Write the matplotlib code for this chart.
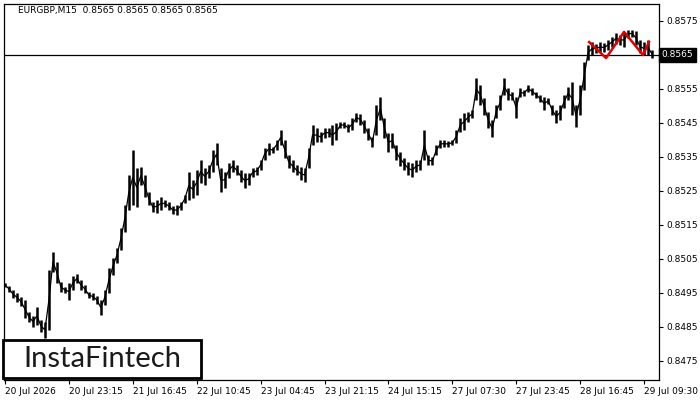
import numpy as np
import matplotlib
matplotlib.use("Agg")
import matplotlib.pyplot as plt
from matplotlib.patches import Rectangle

# EURGBP M15, high/low per ~4 bars
highs = [
    0.84979, 0.84971, 0.84959, 0.84950, 0.84938, 0.84929, 0.84894, 0.84882, 0.84909, 0.84871,
    0.84865, 0.85018, 0.85071, 0.85041, 0.84982, 0.84968, 0.84979, 0.85000, 0.85006, 0.84988,
    0.84974, 0.84953, 0.84950, 0.84941, 0.84929, 0.84959, 0.85024, 0.85053, 0.85082, 0.85141,
    0.85209, 0.85297, 0.85371, 0.85318, 0.85321, 0.85297, 0.85247, 0.85218, 0.85224, 0.85232,
    0.85224, 0.85218, 0.85206, 0.85209, 0.85218, 0.85238, 0.85306, 0.85282, 0.85312, 0.85341,
    0.85318, 0.85326, 0.85371, 0.85391, 0.85318, 0.85306, 0.85332, 0.85341, 0.85326, 0.85312,
    0.85303, 0.85303, 0.85318, 0.85321, 0.85341, 0.85376, 0.85391, 0.85379, 0.85400, 0.85429,
    0.85400, 0.85356, 0.85341, 0.85326, 0.85321, 0.85318, 0.85376, 0.85444, 0.85435, 0.85424,
    0.85435, 0.85435, 0.85444, 0.85450, 0.85453, 0.85453, 0.85447, 0.85465, 0.85479, 0.85476,
    0.85459, 0.85435, 0.85409, 0.85503, 0.85526, 0.85465, 0.85421, 0.85421, 0.85385, 0.85365,
    0.85347, 0.85335, 0.85332, 0.85341, 0.85341, 0.85429, 0.85356, 0.85350, 0.85385, 0.85400,
    0.85400, 0.85397, 0.85400, 0.85429, 0.85465, 0.85479, 0.85482, 0.85488, 0.85582, 0.85562,
    0.85524, 0.85482, 0.85459, 0.85503, 0.85532, 0.85582, 0.85553, 0.85541, 0.85526, 0.85553,
    0.85547, 0.85562, 0.85553, 0.85541, 0.85532, 0.85526, 0.85524, 0.85503, 0.85488, 0.85503,
    0.85532, 0.85556, 0.85571, 0.85503, 0.85562, 0.85629, 0.85679, 0.85688, 0.85682, 0.85688,
    0.85685, 0.85694, 0.85703, 0.85715, 0.85709, 0.85715, 0.85724, 0.85724, 0.85721, 0.85694,
    0.85688, 0.85694, 0.85665,
]
lows = [
    0.84968, 0.84953, 0.84935, 0.84924, 0.84912, 0.84876, 0.84865, 0.84850, 0.84856, 0.84835,
    0.84818, 0.84841, 0.85012, 0.84979, 0.84953, 0.84950, 0.84929, 0.84959, 0.84979, 0.84959,
    0.84950, 0.84935, 0.84929, 0.84918, 0.84885, 0.84915, 0.84950, 0.85003, 0.85038, 0.85076,
    0.85129, 0.85194, 0.85209, 0.85203, 0.85268, 0.85232, 0.85209, 0.85188, 0.85185, 0.85194,
    0.85203, 0.85194, 0.85182, 0.85179, 0.85194, 0.85215, 0.85224, 0.85229, 0.85238, 0.85274,
    0.85268, 0.85288, 0.85306, 0.85326, 0.85247, 0.85259, 0.85288, 0.85306, 0.85297, 0.85276,
    0.85259, 0.85268, 0.85291, 0.85297, 0.85312, 0.85341, 0.85356, 0.85362, 0.85371, 0.85385,
    0.85347, 0.85318, 0.85306, 0.85297, 0.85282, 0.85276, 0.85318, 0.85385, 0.85394, 0.85394,
    0.85406, 0.85409, 0.85385, 0.85400, 0.85435, 0.85435, 0.85424, 0.85429, 0.85453, 0.85444,
    0.85421, 0.85400, 0.85379, 0.85415, 0.85459, 0.85406, 0.85365, 0.85376, 0.85341, 0.85324,
    0.85312, 0.85297, 0.85291, 0.85306, 0.85312, 0.85341, 0.85326, 0.85326, 0.85356, 0.85376,
    0.85379, 0.85379, 0.85385, 0.85391, 0.85424, 0.85429, 0.85453, 0.85465, 0.85518, 0.85503,
    0.85474, 0.85435, 0.85409, 0.85465, 0.85488, 0.85532, 0.85518, 0.85518, 0.85465, 0.85526,
    0.85529, 0.85541, 0.85532, 0.85524, 0.85512, 0.85488, 0.85506, 0.85474, 0.85450, 0.85459,
    0.85494, 0.85518, 0.85474, 0.85438, 0.85474, 0.85547, 0.85635, 0.85650, 0.85656, 0.85659,
    0.85659, 0.85665, 0.85674, 0.85682, 0.85679, 0.85674, 0.85700, 0.85703, 0.85679, 0.85656,
    0.85650, 0.85650, 0.85641,
]

# pattern drawn in red
pattern_x = [146.25, 150.5, 155.0, 159.75, 161.25]
pattern_y = [0.85688, 0.85641, 0.85718, 0.85650, 0.85688]

price_ticks = [0.8475, 0.8485, 0.8495, 0.8505, 0.8515, 0.8525, 0.8535, 0.8545, 0.8555, 0.8565, 0.8575]
time_labels = ["20 Jul 2026", "20 Jul 23:15", "21 Jul 16:45", "22 Jul 10:45", "23 Jul 04:45",
               "23 Jul 21:15", "24 Jul 15:15", "27 Jul 07:30", "27 Jul 23:45", "28 Jul 16:45",
               "29 Jul 09:30"]
last_price = 0.8565
title = "EURGBP,M15  0.8565 0.8565 0.8565 0.8565"

highs = np.array(highs)
lows = np.array(lows)
x = np.arange(len(highs))

fig = plt.figure(figsize=(7, 4), dpi=100)
ax = fig.add_axes([4 / 700, 20 / 400, 655 / 700, 376 / 400])

ax.vlines(x, lows, highs, color="black", lw=1.8)
ax.plot(x, (highs + lows) / 2, color="black", lw=0.9)
ax.plot(pattern_x, pattern_y, color="#e00000", lw=1.8, zorder=5)
ax.axhline(last_price, color="black", lw=0.9)

ax.set_xlim(-0.25, 163.75)
ax.set_ylim(0.84694, 0.85800)

ax.yaxis.tick_right()
ax.set_yticks(price_ticks)
# the 0.8565 label sits under the current price tag
ax.set_yticklabels(["" if p == last_price else "%.4f" % p for p in price_ticks])
ax.set_xticks(np.arange(len(time_labels)) * 16)
ax.set_xticklabels(time_labels, ha="left")
ax.tick_params(axis="both", direction="out", length=3, width=0.8, labelsize=6.5, pad=2)
for sp in ax.spines.values():
    sp.set_linewidth(0.9)

# current price tag
ax.text(1.004, last_price, "%.4f" % last_price, transform=ax.get_yaxis_transform(),
        ha="left", va="center", fontsize=6.5, color="white",
        bbox=dict(boxstyle="square,pad=0.25", fc="black", ec="black"))

fig.text(18 / 700, 1 - 11 / 400, title, fontsize=6.5, va="center", ha="left")

# logo
fig.patches.append(Rectangle((3 / 700, 22 / 400), 198 / 700, 38 / 400, transform=fig.transFigure,
                             fc="white", ec="black", lw=2, zorder=10))
fig.text(102 / 700, 41 / 400, "InstaFintech", fontsize=21, family="Lato", color="#1a1a1a",
         ha="center", va="center", zorder=11)

fig.savefig("out.png", dpi=100)
